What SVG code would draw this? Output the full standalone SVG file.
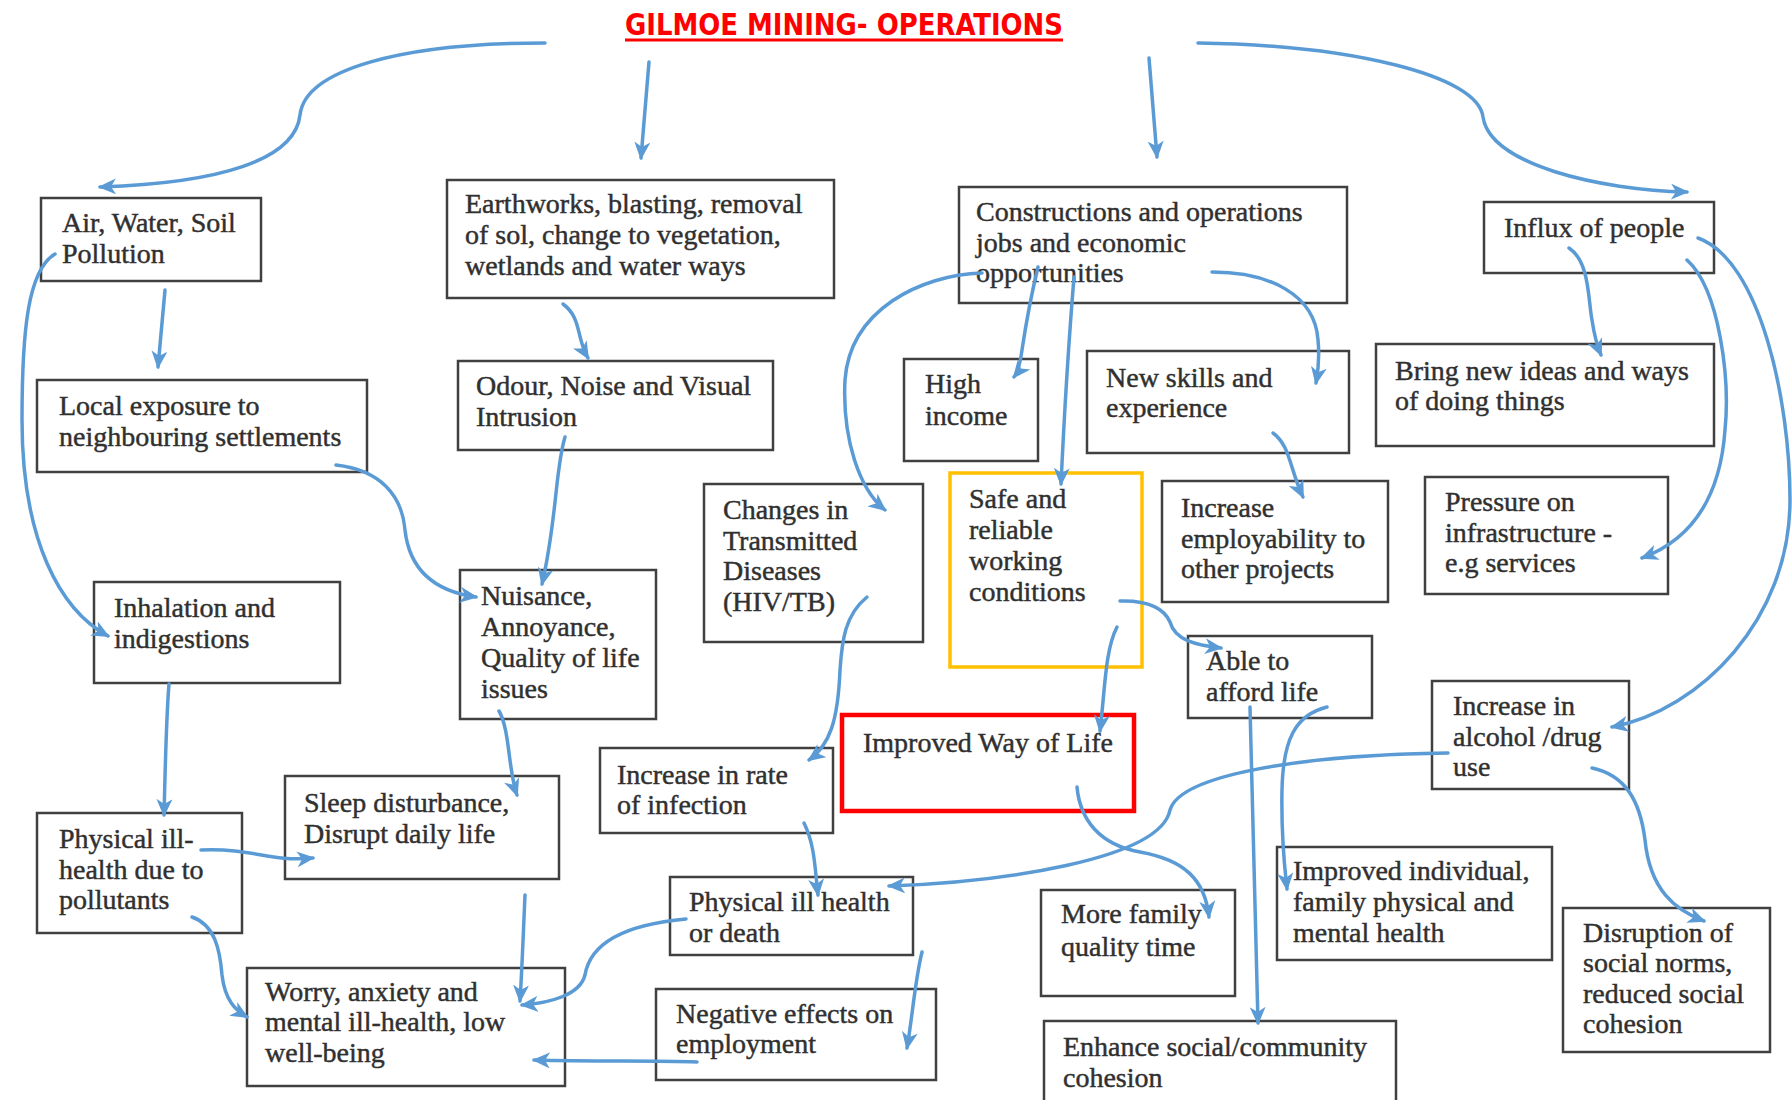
<svg xmlns="http://www.w3.org/2000/svg" width="1792" height="1100" viewBox="0 0 1792 1100">
<defs>
<style>
.box{fill:#fff;stroke:#404040;stroke-width:2.5}
.yb{fill:#fff;stroke:#FFC000;stroke-width:3.5}
.rb{fill:#fff;stroke:#FF0000;stroke-width:4.5}
.t{font-family:"Liberation Serif","Times New Roman",serif;font-size:28px;fill:#303030;stroke:#303030;stroke-width:0.45}
.c{fill:none;stroke:#5B9BD5;stroke-width:3.5;stroke-linecap:round;marker-end:url(#ah)}
.title{font-family:"DejaVu Sans Condensed","DejaVu Sans",sans-serif;font-weight:bold;font-size:30px;fill:#FF0000}
</style>
<marker id="ah" markerUnits="userSpaceOnUse" markerWidth="18" markerHeight="16" viewBox="0 0 18 16" refX="16" refY="8" orient="auto">
<path d="M0,0 L18,8 L0,16 L5,8 z" fill="#5B9BD5"/>
</marker>
</defs>
<rect width="1792" height="1100" fill="#fff"/>
<g id="title">
<text class="title" x="625" y="35" textLength="438" lengthAdjust="spacingAndGlyphs">GILMOE MINING- OPERATIONS</text>
<rect x="625" y="38.5" width="438" height="3" fill="#FF0000"/>
</g>
<g id="n-air"><rect class="box" x="41" y="198" width="220" height="83"/><text class="t" x="62" y="232">Air, Water, Soil</text><text class="t" x="62" y="263">Pollution</text></g>
<g id="n-earth"><rect class="box" x="447" y="180" width="387" height="118"/><text class="t" x="465" y="213">Earthworks, blasting, removal</text><text class="t" x="465" y="244">of sol, change to vegetation,</text><text class="t" x="465" y="275">wetlands and water ways</text></g>
<g id="n-constr"><rect class="box" x="959" y="187" width="388" height="116"/><text class="t" x="976" y="221">Constructions and operations</text><text class="t" x="976" y="252">jobs and economic</text><text class="t" x="976" y="282">opportunities</text></g>
<g id="n-influx"><rect class="box" x="1484" y="202" width="230" height="71"/><text class="t" x="1504" y="237">Influx of people</text></g>
<g id="n-local"><rect class="box" x="37" y="380" width="330" height="92"/><text class="t" x="59" y="415">Local exposure to</text><text class="t" x="59" y="446">neighbouring settlements</text></g>
<g id="n-odour"><rect class="box" x="458" y="361" width="315" height="89"/><text class="t" x="476" y="395">Odour, Noise and Visual</text><text class="t" x="476" y="426">Intrusion</text></g>
<g id="n-high"><rect class="box" x="904" y="359" width="134" height="102"/><text class="t" x="925" y="393">High</text><text class="t" x="925" y="425">income</text></g>
<g id="n-skills"><rect class="box" x="1087" y="351" width="262" height="102"/><text class="t" x="1106" y="387">New skills and</text><text class="t" x="1106" y="417">experience</text></g>
<g id="n-ideas"><rect class="box" x="1376" y="344" width="338" height="102"/><text class="t" x="1395" y="380">Bring new ideas and ways</text><text class="t" x="1395" y="410">of doing things</text></g>
<g id="n-changes"><rect class="box" x="704" y="484" width="219" height="158"/><text class="t" x="723" y="519">Changes in</text><text class="t" x="723" y="550">Transmitted</text><text class="t" x="723" y="580">Diseases</text><text class="t" x="723" y="611">(HIV/TB)</text></g>
<g id="n-safe"><rect class="yb" x="950" y="473" width="192" height="194"/><text class="t" x="969" y="508">Safe and</text><text class="t" x="969" y="539">reliable</text><text class="t" x="969" y="570">working</text><text class="t" x="969" y="601">conditions</text></g>
<g id="n-employ"><rect class="box" x="1162" y="481" width="226" height="121"/><text class="t" x="1181" y="517">Increase</text><text class="t" x="1181" y="548">employability to</text><text class="t" x="1181" y="578">other projects</text></g>
<g id="n-pressure"><rect class="box" x="1425" y="477" width="243" height="117"/><text class="t" x="1445" y="511">Pressure on</text><text class="t" x="1445" y="542">infrastructure -</text><text class="t" x="1445" y="572">e.g services</text></g>
<g id="n-inhal"><rect class="box" x="94" y="582" width="246" height="101"/><text class="t" x="114" y="617">Inhalation and</text><text class="t" x="114" y="648">indigestions</text></g>
<g id="n-nuis"><rect class="box" x="460" y="570" width="196" height="149"/><text class="t" x="481" y="605">Nuisance,</text><text class="t" x="481" y="636">Annoyance,</text><text class="t" x="481" y="667">Quality of life</text><text class="t" x="481" y="698">issues</text></g>
<g id="n-afford"><rect class="box" x="1188" y="636" width="184" height="82"/><text class="t" x="1206" y="670">Able to</text><text class="t" x="1206" y="701">afford life</text></g>
<g id="n-alcohol"><rect class="box" x="1432" y="681" width="197" height="108"/><text class="t" x="1453" y="715">Increase in</text><text class="t" x="1453" y="746">alcohol /drug</text><text class="t" x="1453" y="776">use</text></g>
<g id="n-improved"><rect class="rb" x="842" y="715" width="292" height="96"/><text class="t" x="863" y="752">Improved Way of Life</text></g>
<g id="n-infect"><rect class="box" x="600" y="748" width="233" height="85"/><text class="t" x="617" y="784">Increase in rate</text><text class="t" x="617" y="814">of infection</text></g>
<g id="n-sleep"><rect class="box" x="285" y="776" width="274" height="103"/><text class="t" x="304" y="812">Sleep disturbance,</text><text class="t" x="304" y="843">Disrupt daily life</text></g>
<g id="n-physpoll"><rect class="box" x="37" y="813" width="205" height="120"/><text class="t" x="59" y="848">Physical ill-</text><text class="t" x="59" y="879">health due to</text><text class="t" x="59" y="909">pollutants</text></g>
<g id="n-physdeath"><rect class="box" x="670" y="877" width="243" height="78"/><text class="t" x="689" y="911">Physical ill health</text><text class="t" x="689" y="942">or death</text></g>
<g id="n-family"><rect class="box" x="1041" y="890" width="194" height="106"/><text class="t" x="1061" y="923">More family</text><text class="t" x="1061" y="956">quality time</text></g>
<g id="n-indiv"><rect class="box" x="1277" y="847" width="275" height="113"/><text class="t" x="1293" y="880">Improved individual,</text><text class="t" x="1293" y="911">family physical and</text><text class="t" x="1293" y="942">mental health</text></g>
<g id="n-disrupt"><rect class="box" x="1563" y="908" width="207" height="144"/><text class="t" x="1583" y="942">Disruption of</text><text class="t" x="1583" y="972">social norms,</text><text class="t" x="1583" y="1003">reduced social</text><text class="t" x="1583" y="1033">cohesion</text></g>
<g id="n-worry"><rect class="box" x="247" y="968" width="318" height="118"/><text class="t" x="265" y="1001">Worry, anxiety and</text><text class="t" x="265" y="1031">mental ill-health, low</text><text class="t" x="265" y="1062">well-being</text></g>
<g id="n-negative"><rect class="box" x="656" y="989" width="280" height="91"/><text class="t" x="676" y="1023">Negative effects on</text><text class="t" x="676" y="1053">employment</text></g>
<g id="n-enhance"><rect class="box" x="1044" y="1021" width="352" height="95"/><text class="t" x="1063" y="1056">Enhance social/community</text><text class="t" x="1063" y="1087">cohesion</text></g>
<g id="connectors">
<path class="c" d="M545,43 C400,43 305,70 300,115 C295,160 220,183 100,187"/>
<path class="c" d="M649,62 L641,158"/>
<path class="c" d="M1149,58 L1157,157"/>
<path class="c" d="M1198,43 C1350,45 1478,75 1483,117 C1490,165 1600,190 1687,192"/>
<path class="c" d="M165,290 L158,367"/>
<path class="c" d="M55,254 C28,270 22,330 22,420 C22,540 60,610 108,636"/>
<path class="c" d="M336,465 C380,470 402,495 405,530 C410,575 440,592 476,597"/>
<path class="c" d="M563,304 C582,318 576,338 588,358"/>
<path class="c" d="M565,437 C555,470 557,520 542,584"/>
<path class="c" d="M499,711 C510,730 508,770 517,795"/>
<path class="c" d="M169,684 C166,720 165,780 164,815"/>
<path class="c" d="M201,850 C255,848 268,862 313,858"/>
<path class="c" d="M192,917 C215,925 220,950 222,975 C225,1000 235,1010 247,1017"/>
<path class="c" d="M525,895 C523,940 522,970 520,1001"/>
<path class="c" d="M686,919 C620,925 590,945 585,975 C580,995 550,1003 522,1005"/>
<path class="c" d="M697,1062 C650,1060 600,1062 534,1060"/>
<path class="c" d="M867,597 C845,615 842,640 840,670 C838,720 830,745 809,760"/>
<path class="c" d="M804,823 C815,845 815,870 818,895"/>
<path class="c" d="M982,273 C920,275 850,310 845,380 C842,440 860,490 885,510"/>
<path class="c" d="M1038,267 C1030,300 1025,330 1022,350 C1020,365 1018,372 1014,377"/>
<path class="c" d="M1074,277 C1068,350 1064,420 1061,484"/>
<path class="c" d="M1212,272 C1270,272 1315,295 1318,340 C1320,360 1318,372 1316,383"/>
<path class="c" d="M1273,433 C1290,445 1290,470 1303,497"/>
<path class="c" d="M1569,248 C1590,262 1588,300 1592,320 C1595,340 1598,348 1601,355"/>
<path class="c" d="M1687,260 C1720,290 1730,380 1725,430 C1720,500 1690,540 1642,558"/>
<path class="c" d="M1698,238 C1760,260 1790,400 1790,500 C1790,620 1700,710 1612,727"/>
<path class="c" d="M1120,601 C1150,600 1165,610 1170,622 C1175,640 1195,645 1221,648"/>
<path class="c" d="M1117,627 C1105,650 1105,690 1100,731"/>
<path class="c" d="M1077,787 C1080,820 1100,845 1140,852 C1185,860 1205,880 1209,917"/>
<path class="c" d="M1448,753 C1300,755 1180,775 1170,810 C1160,860 1000,882 889,886"/>
<path class="c" d="M1250,707 L1258,1023"/>
<path class="c" d="M1327,707 C1295,715 1283,740 1282,790 C1281,840 1285,870 1287,889"/>
<path class="c" d="M1592,768 C1625,775 1640,800 1645,840 C1650,890 1675,910 1704,921"/>
<path class="c" d="M922,952 C915,980 912,1020 907,1048"/>
</g>
</svg>
